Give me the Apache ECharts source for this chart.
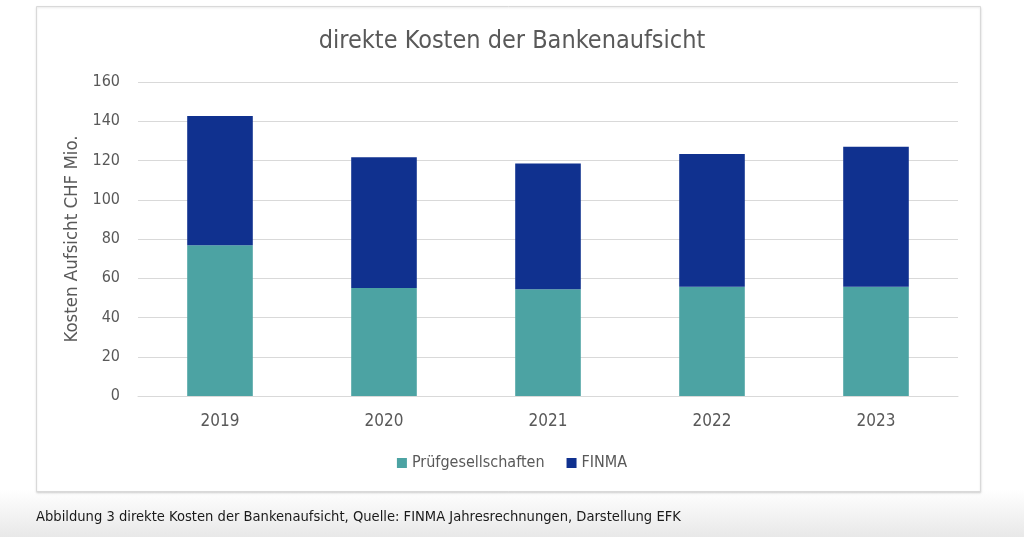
<!DOCTYPE html>
<html><head><meta charset="utf-8">
<script src="https://cdn.jsdelivr.net/npm/echarts@6/dist/echarts.min.js"></script>
<style>html,body{margin:0;padding:0;background:#fff}#c{width:1024px;height:537px}</style>
</head><body><div id="c"></div>
<script>
var categories = ['2019','2020','2021','2022','2023'];
var pruefgesellschaften = [76.8, 55.0, 54.4, 55.7, 55.7];
var finma = [65.9, 66.6, 64.1, 67.6, 71.3];
var yTicks = [0, 20, 40, 60, 80, 100, 120, 140, 160];

var FONT = '"Liberation Sans Narrow","DejaVu Sans Condensed",sans-serif';
var TXT = '#595959';
var chart = echarts.init(document.getElementById('c'), null, {renderer:'canvas'});
chart.setOption({
  animation:false,
  backgroundColor:'#fff',
  textStyle:{fontFamily:FONT},
  graphic:[
    {type:'rect', z:-10, silent:true, shape:{x:0,y:490,width:1024,height:47},
     style:{fill:new echarts.graphic.LinearGradient(0,0,0,1,[{offset:0,color:'#ffffff'},{offset:1,color:'#e8e8e8'}])}},
    {type:'rect', z:-5, silent:true, shape:{x:36.5,y:6.5,width:944,height:485},
     style:{fill:'#fff', stroke:'#d9d9d9', lineWidth:1, shadowBlur:2, shadowColor:'rgba(0,0,0,0.12)', shadowOffsetY:1}},
    {type:'text', left:36, top:510, silent:true,
     style:{text:'Abbildung 3 direkte Kosten der Bankenaufsicht, Quelle: FINMA Jahresrechnungen, Darstellung EFK',
            fill:'#1a1a1a', font:'14.6px '+FONT}}
  ],
  title:{text:'direkte Kosten der Bankenaufsicht', left:'center', top:24,
         textStyle:{color:TXT, fontSize:25, fontWeight:'normal', fontFamily:FONT}},
  legend:{bottom:61, left:'center', itemWidth:10, itemHeight:10, itemGap:22, icon:'rect',
          textStyle:{color:TXT, fontSize:16, fontFamily:FONT},
          data:['Prüfgesellschaften','FINMA']},
  grid:{left:138, right:66, top:82, bottom:141, containLabel:false},
  xAxis:{type:'category', data:categories,
         axisLine:{lineStyle:{color:'#d9d9d9'}}, axisTick:{show:false},
         axisLabel:{color:TXT, fontSize:17, margin:17, fontFamily:FONT}},
  yAxis:{type:'value', min:yTicks[0], max:yTicks[yTicks.length-1], interval:20,
         name:'Kosten Aufsicht CHF Mio.', nameLocation:'middle', nameGap:51, nameRotate:90,
         nameTextStyle:{color:TXT, fontSize:18.5, fontFamily:FONT},
         axisLine:{show:false}, axisTick:{show:false},
         splitLine:{lineStyle:{color:'#d9d9d9', width:1}},
         axisLabel:{color:TXT, fontSize:16, margin:18, fontFamily:FONT}},
  series:[
    {name:'Prüfgesellschaften', type:'bar', stack:'a', data:pruefgesellschaften, barWidth:'40%',
     itemStyle:{color:'#4ca3a3'}},
    {name:'FINMA', type:'bar', stack:'a', data:finma, barWidth:'40%',
     itemStyle:{color:'#10318f'}}
  ]
});
</script></body></html>
